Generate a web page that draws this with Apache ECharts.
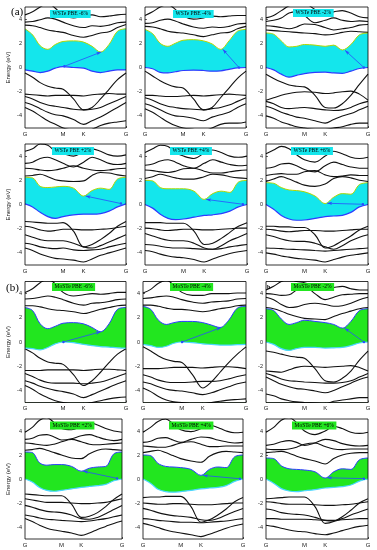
<!DOCTYPE html>
<html><head><meta charset="utf-8">
<script src="https://cdn.jsdelivr.net/npm/echarts@6/dist/echarts.min.js"></script>
<style>html,body{margin:0;padding:0;background:#fff}#c{width:377px;height:550px}</style>
</head><body><div id="c"></div>
<script>
// ---- shared path / ticks ----
const kPath = [0, 0.075, 0.15, 0.226, 0.30, 0.377, 0.48, 0.58, 0.664, 0.748, 0.832, 0.916, 1.0];
const kTicks = [0, 0.377, 0.58, 1];
const kTickLabels = ['G', 'M', 'K', 'G'];
const eTicks = [-4, -2, 0, 2, 4];
const titles = ['WSTe PBE -6%', 'WSTe PBE -4%', 'WSTe PBE -2%', 'WSTe PBE +2%', 'WSTe PBE +4%', 'WSTe PBE +6%',
  'MoSTe PBE -6%', 'MoSTe PBE -4%', 'MoSTe PBE -2%', 'MoSTe PBE +2%', 'MoSTe PBE +4%', 'MoSTe PBE +6%'];

// ---- WSTe -6% ----
const wsteM6Cb = [3.2, 2.7, 1.8, 1.5, 1.9, 2.15, 2.2, 2.1, 1.75, 1.28, 1.9, 3.0, 3.2];
const wsteM6Vb = [-0.2, -0.3, -0.42, -0.3, -0.05, 0.08, 0.0, -0.05, -0.3, -0.42, -0.3, -0.2, -0.2];
const wsteM6Arrow = [0.39, 0.1, 0.755, 1.28];
const wsteM6Bands = [
  [3.5, 3.45, 3.3, 3.1, 3.0, 2.9, 2.65, 2.5, 2.65, 2.85, 2.95, 3.3, 3.55],
  [3.75, 3.8, 3.95, 4.1, 4.0, 3.75, 3.45, 3.3, 3.45, 3.4, 3.5, 3.7, 3.75],
  [4.35, 4.6, 5.0, 5.3, 4.9, 4.3, 4.1, 4.3, 4.35, 4.2, 4.25, 4.35, 4.4],
  [-0.45, -0.8, -1.25, -1.55, -1.7, -1.8, -2.6, -3.5, -3.3, -2.6, -1.8, -1.0, -0.45],
  [-2.2, -2.25, -2.3, -2.35, -2.3, -2.3, -2.3, -2.35, -2.25, -2.2, -2.15, -2.2, -2.2],
  [-2.4, -2.6, -2.9, -3.1, -3.2, -3.3, -3.45, -3.5, -3.45, -3.3, -3.0, -2.7, -2.4],
  [-2.9, -3.1, -3.4, -3.7, -3.9, -4.0, -4.3, -4.7, -4.4, -4.1, -3.7, -3.3, -2.9],
  [-3.3, -3.6, -4.0, -4.4, -4.7, -5.0, -5.2, -5.3, -5.1, -4.8, -4.6, -4.5, -4.4]
];
// ---- WSTe -4% ----
const wsteM4Cb = [3.15, 2.8, 2.0, 1.75, 2.0, 2.25, 2.3, 2.2, 1.95, 1.5, 2.2, 3.0, 3.15];
const wsteM4Vb = [0.0, -0.1, -0.4, -0.45, -0.35, -0.25, -0.22, -0.25, -0.3, -0.28, -0.15, -0.03, 0.0];
const wsteM4Arrow = [0.93, 0.0, 0.77, 1.5];
const wsteM4Bands = [
  [3.4, 3.35, 3.2, 3.0, 2.9, 2.85, 2.7, 2.55, 2.7, 2.85, 2.9, 3.2, 3.4],
  [3.65, 3.7, 3.9, 4.0, 3.85, 3.6, 3.35, 3.25, 3.35, 3.3, 3.4, 3.6, 3.65],
  [4.3, 4.6, 5.0, 5.2, 4.8, 4.25, 4.0, 4.1, 4.25, 4.2, 4.25, 4.3, 4.3],
  [-0.3, -0.7, -1.1, -1.4, -1.6, -1.7, -2.6, -3.5, -3.3, -2.5, -1.7, -0.9, -0.3],
  [-2.3, -2.3, -2.35, -2.4, -2.4, -2.35, -2.3, -2.35, -2.3, -2.25, -2.2, -2.25, -2.3],
  [-2.5, -2.7, -3.0, -3.2, -3.3, -3.4, -3.45, -3.5, -3.4, -3.3, -3.1, -2.8, -2.5],
  [-3.0, -3.2, -3.5, -3.8, -4.0, -4.05, -4.2, -4.4, -4.1, -3.9, -3.7, -3.3, -3.0],
  [-3.4, -3.7, -4.1, -4.5, -4.8, -5.0, -5.1, -5.2, -5.0, -4.7, -4.6, -4.6, -4.5]
];
// ---- WSTe -2% ----
const wsteM2Cb = [2.85, 2.75, 2.2, 1.7, 1.75, 1.9, 1.85, 1.75, 1.85, 1.45, 1.9, 2.7, 2.85];
const wsteM2Vb = [0.0, -0.2, -0.55, -0.8, -0.65, -0.5, -0.4, -0.38, -0.45, -0.48, -0.3, -0.08, 0.0];
const wsteM2Arrow = [0.96, 0.0, 0.775, 1.42];
const wsteM2Bands = [
  [3.1, 3.05, 3.0, 2.95, 2.9, 2.85, 2.8, 2.7, 2.75, 2.9, 3.0, 2.95, 2.9],
  [3.45, 3.4, 3.3, 3.2, 3.35, 3.6, 3.55, 3.3, 3.1, 3.2, 3.3, 3.5, 3.55],
  [3.8, 3.9, 4.1, 4.5, 4.6, 4.3, 3.7, 3.9, 4.1, 3.9, 3.8, 3.85, 3.8],
  [4.1, 4.3, 4.7, 5.1, 5.3, 5.3, 4.8, 4.5, 4.6, 4.7, 4.5, 4.2, 4.1],
  [-0.55, -0.9, -1.2, -1.45, -1.55, -1.6, -2.3, -3.3, -3.35, -3.0, -2.3, -1.4, -0.55],
  [-2.7, -2.5, -2.3, -2.15, -2.05, -2.0, -2.05, -2.15, -2.1, -2.0, -1.95, -2.2, -2.7],
  [-2.8, -3.0, -3.3, -3.4, -3.35, -3.3, -3.4, -3.5, -3.55, -3.5, -3.3, -3.0, -2.8],
  [-3.2, -3.4, -3.7, -3.9, -4.1, -4.2, -4.4, -4.6, -4.3, -4.0, -3.8, -3.5, -3.2],
  [-4.0, -4.2, -4.5, -4.7, -4.9, -5.0, -5.1, -5.1, -5.0, -4.9, -4.7, -4.6, -4.6]
];
// ---- WSTe +2% ----
const wsteP2Cb = [2.25, 2.2, 1.5, 1.4, 1.45, 1.5, 1.35, 0.7, 1.15, 1.35, 1.25, 2.1, 2.25];
const wsteP2Vb = [0.05, -0.2, -0.65, -1.0, -1.15, -1.0, -0.85, -0.8, -0.8, -0.75, -0.55, -0.2, 0.05];
const wsteP2Arrow = [0.95, 0.08, 0.6, 0.7];
const wsteP2Bands = [
  [2.35, 2.4, 2.5, 2.3, 2.05, 1.95, 1.9, 1.95, 2.4, 2.65, 2.6, 2.45, 2.35],
  [3.0, 2.95, 2.85, 2.8, 2.85, 3.0, 3.2, 3.0, 2.85, 2.8, 2.85, 2.95, 3.0],
  [3.4, 3.5, 3.8, 3.9, 3.7, 3.4, 3.1, 3.5, 3.9, 3.7, 3.4, 3.3, 3.4],
  [4.4, 4.6, 5.0, 4.9, 4.4, 4.2, 4.0, 4.35, 4.6, 4.4, 4.1, 4.0, 4.1],
  [-1.4, -1.45, -1.5, -1.55, -1.55, -1.5, -2.2, -3.5, -3.3, -2.9, -2.4, -1.8, -1.4],
  [-1.8, -1.9, -2.1, -2.2, -2.15, -2.05, -2.05, -2.1, -2.1, -2.05, -2.0, -1.9, -1.8],
  [-2.5, -2.7, -2.9, -3.0, -3.0, -3.0, -3.2, -3.5, -3.6, -3.4, -3.1, -2.8, -2.5],
  [-3.2, -3.3, -3.5, -3.6, -3.65, -3.6, -3.75, -3.8, -3.75, -3.7, -3.5, -3.35, -3.2],
  [-3.6, -3.8, -4.1, -4.3, -4.45, -4.5, -4.6, -4.75, -4.5, -4.2, -4.0, -3.8, -3.6]
];
// ---- WSTe +4% ----
const wsteP4Cb = [2.0, 1.95, 1.4, 1.3, 1.3, 1.3, 1.1, 0.42, 0.9, 1.1, 1.0, 1.85, 2.0];
const wsteP4Vb = [0.0, -0.3, -0.8, -1.15, -1.25, -1.2, -1.05, -0.9, -0.85, -0.75, -0.55, -0.2, 0.0];
const wsteP4Arrow = [0.96, 0.02, 0.6, 0.42];
const wsteP4Bands = [
  [2.15, 2.3, 2.5, 2.35, 2.2, 2.1, 2.1, 2.3, 2.5, 2.45, 2.3, 2.2, 2.15],
  [2.85, 2.8, 2.7, 2.65, 2.75, 2.95, 3.0, 2.75, 2.6, 2.6, 2.7, 2.8, 2.85],
  [3.25, 3.35, 3.6, 3.7, 3.5, 3.2, 3.0, 3.4, 3.7, 3.5, 3.3, 3.2, 3.25],
  [4.3, 4.6, 4.9, 4.8, 4.3, 4.0, 3.8, 4.25, 4.5, 4.3, 4.0, 3.9, 4.0],
  [-1.5, -1.5, -1.5, -1.55, -1.55, -1.55, -2.2, -3.3, -3.2, -2.8, -2.3, -1.8, -1.5],
  [-1.95, -2.0, -2.1, -2.15, -2.1, -2.05, -2.05, -2.1, -2.1, -2.05, -2.0, -1.95, -1.95],
  [-2.4, -2.6, -2.8, -2.95, -3.0, -3.0, -3.2, -3.6, -3.7, -3.4, -3.0, -2.7, -2.4],
  [-3.3, -3.35, -3.45, -3.55, -3.6, -3.6, -3.65, -3.7, -3.7, -3.65, -3.5, -3.4, -3.3],
  [-3.8, -3.9, -4.1, -4.25, -4.35, -4.4, -4.55, -4.75, -4.5, -4.25, -4.05, -3.9, -3.8]
];
// ---- WSTe +6% ----
const wsteP6Cb = [1.8, 1.75, 1.4, 1.2, 1.15, 1.05, 0.7, 0.08, 0.6, 0.9, 0.85, 1.65, 1.8];
const wsteP6Vb = [0.0, -0.4, -0.9, -1.2, -1.3, -1.28, -1.15, -1.0, -0.95, -0.9, -0.65, -0.2, 0.0];
const wsteP6Arrow = [0.95, 0.02, 0.6, 0.1];
const wsteP6Bands = [
  [1.9, 2.1, 2.3, 2.1, 1.85, 1.6, 1.5, 1.7, 2.15, 2.3, 2.2, 2.0, 1.9],
  [2.4, 2.5, 2.55, 2.5, 2.5, 2.7, 2.8, 2.45, 2.3, 2.35, 2.45, 2.4, 2.4],
  [3.0, 3.1, 3.35, 3.4, 3.2, 2.9, 2.7, 3.2, 3.5, 3.3, 3.1, 3.0, 3.0],
  [4.2, 4.5, 4.8, 4.6, 4.1, 3.7, 3.5, 4.0, 4.4, 4.2, 3.9, 3.8, 3.9],
  [-1.8, -1.8, -1.85, -1.85, -1.9, -1.9, -2.5, -3.6, -3.4, -3.0, -2.6, -2.1, -1.8],
  [-2.05, -2.1, -2.2, -2.25, -2.2, -2.15, -2.15, -2.2, -2.2, -2.15, -2.1, -2.05, -2.05],
  [-2.5, -2.65, -2.85, -3.0, -3.05, -3.05, -3.2, -3.5, -3.7, -3.4, -3.0, -2.7, -2.5],
  [-3.6, -3.62, -3.65, -3.7, -3.72, -3.75, -3.8, -3.85, -3.8, -3.75, -3.7, -3.65, -3.6],
  [-4.0, -4.1, -4.25, -4.35, -4.45, -4.5, -4.6, -4.75, -4.55, -4.35, -4.2, -4.1, -4.0]
];
// ---- MoSTe -6% ----
const mosteM6Cb = [2.85, 2.6, 1.5, 1.1, 1.3, 1.55, 1.6, 1.5, 1.2, 0.85, 1.5, 2.7, 2.85];
const mosteM6Vb = [-0.5, -0.55, -0.65, -0.45, -0.15, 0.0, -0.05, -0.2, -0.3, -0.38, -0.42, -0.48, -0.5];
const mosteM6Arrow = [0.38, 0.0, 0.75, 0.85];
const mosteM6Bands = [
  [3.0, 3.0, 2.9, 2.75, 2.65, 2.6, 2.5, 2.35, 2.5, 2.7, 2.85, 3.0, 3.05],
  [3.55, 3.6, 3.7, 3.8, 3.7, 3.5, 3.2, 3.05, 3.2, 3.25, 3.35, 3.5, 3.55],
  [4.1, 4.4, 4.9, 5.2, 4.8, 4.1, 3.8, 3.9, 4.0, 3.95, 4.0, 4.1, 4.1],
  [-0.55, -0.9, -1.35, -1.65, -1.75, -1.85, -2.7, -3.6, -3.2, -2.5, -1.7, -1.0, -0.55],
  [-2.35, -2.35, -2.35, -2.3, -2.3, -2.3, -2.3, -2.35, -2.3, -2.25, -2.25, -2.3, -2.35],
  [-2.6, -2.85, -3.15, -3.35, -3.4, -3.4, -3.4, -3.45, -3.4, -3.3, -3.1, -2.85, -2.6],
  [-3.2, -3.4, -3.65, -3.85, -4.0, -4.1, -4.3, -4.6, -4.35, -4.05, -3.75, -3.45, -3.2],
  [-3.6, -3.9, -4.3, -4.6, -4.85, -5.0, -5.1, -5.1, -5.0, -4.85, -4.7, -4.6, -4.55]
];
// ---- MoSTe -4% ----
const mosteM4Cb = [2.95, 2.7, 1.8, 1.45, 1.6, 1.7, 1.7, 1.6, 1.4, 1.2, 1.8, 2.8, 2.95];
const mosteM4Vb = [-0.2, -0.3, -0.45, -0.35, -0.1, 0.0, -0.05, -0.15, -0.2, -0.25, -0.25, -0.22, -0.2];
const mosteM4Arrow = [0.38, 0.0, 0.76, 1.2];
const mosteM4Bands = [
  [3.05, 3.05, 2.95, 2.8, 2.7, 2.7, 2.6, 2.5, 2.6, 2.75, 2.85, 3.0, 3.05],
  [3.6, 3.65, 3.75, 3.8, 3.7, 3.5, 3.3, 3.2, 3.3, 3.35, 3.4, 3.55, 3.6],
  [4.05, 4.35, 4.85, 5.1, 4.7, 4.1, 3.85, 3.85, 4.0, 4.0, 4.0, 4.05, 4.05],
  [-0.4, -0.75, -1.15, -1.45, -1.6, -1.7, -2.7, -3.8, -3.3, -2.5, -1.7, -1.0, -0.4],
  [-2.2, -2.2, -2.2, -2.15, -2.1, -2.1, -2.1, -2.15, -2.1, -2.05, -2.05, -2.1, -2.2],
  [-2.7, -2.9, -3.15, -3.3, -3.35, -3.35, -3.3, -3.25, -3.25, -3.2, -3.05, -2.85, -2.7],
  [-3.3, -3.45, -3.7, -3.9, -4.0, -4.05, -4.2, -4.35, -4.2, -3.95, -3.7, -3.45, -3.3],
  [-3.8, -4.1, -4.5, -4.8, -4.95, -5.0, -5.1, -5.1, -5.0, -4.9, -4.8, -4.75, -4.7]
];
// ---- MoSTe -2% ----
const mosteM2Cb = [2.75, 2.6, 1.9, 1.45, 1.6, 1.8, 1.7, 1.6, 1.45, 1.15, 1.7, 2.6, 2.75];
const mosteM2Vb = [0.0, -0.2, -0.55, -0.7, -0.55, -0.45, -0.45, -0.5, -0.48, -0.45, -0.3, -0.08, 0.0];
const mosteM2Arrow = [0.96, 0.0, 0.77, 1.15];
const mosteM2Bands = [
  [2.85, 2.75, 2.55, 2.3, 2.1, 1.95, 1.9, 1.85, 2.1, 2.35, 2.55, 2.75, 2.85],
  [3.7, 3.5, 3.1, 2.85, 2.9, 3.1, 3.2, 3.1, 2.95, 3.0, 3.2, 3.5, 3.7],
  [4.0, 3.95, 3.85, 3.9, 4.3, 4.6, 4.0, 3.5, 3.7, 3.9, 3.95, 4.0, 4.0],
  [4.3, 4.6, 5.0, 5.2, 5.0, 4.9, 4.6, 4.4, 4.5, 4.6, 4.4, 4.3, 4.3],
  [-0.75, -0.85, -1.0, -1.15, -1.25, -1.35, -2.2, -3.2, -3.3, -3.0, -2.4, -1.5, -0.75],
  [-2.4, -2.45, -2.5, -2.3, -2.1, -2.0, -2.05, -2.1, -2.05, -2.0, -1.95, -2.1, -2.4],
  [-2.6, -2.8, -3.05, -3.2, -3.25, -3.3, -3.35, -3.4, -3.4, -3.35, -3.2, -2.9, -2.6],
  [-2.9, -3.2, -3.5, -3.7, -3.85, -3.9, -4.05, -4.2, -4.0, -3.7, -3.4, -3.1, -2.9],
  [-4.3, -4.45, -4.7, -4.85, -4.95, -5.0, -5.05, -5.1, -4.9, -4.8, -4.7, -4.6, -4.6]
];
// ---- MoSTe +2% ----
const mosteP2Cb = [2.25, 2.2, 1.35, 1.15, 1.2, 1.2, 1.05, 0.65, 0.9, 1.0, 1.05, 2.1, 2.25];
const mosteP2Vb = [0.0, -0.25, -0.7, -0.95, -1.02, -0.95, -0.82, -0.7, -0.62, -0.55, -0.45, -0.15, 0.0];
const mosteP2Arrow = [0.95, 0.05, 0.6, 0.65];
const mosteP2Bands = [
  [2.4, 2.45, 2.55, 2.4, 2.2, 2.0, 1.75, 1.7, 2.1, 2.4, 2.5, 2.45, 2.4],
  [3.0, 2.95, 2.85, 2.8, 2.9, 3.1, 3.3, 3.1, 2.9, 2.85, 2.9, 2.95, 3.0],
  [3.3, 3.4, 3.65, 3.7, 3.5, 3.25, 3.35, 3.6, 3.7, 3.5, 3.3, 3.2, 3.3],
  [3.9, 4.3, 4.9, 5.1, 4.7, 4.2, 4.1, 4.4, 4.7, 4.5, 4.2, 4.0, 3.9],
  [-1.25, -1.3, -1.35, -1.4, -1.4, -1.4, -2.1, -3.2, -3.1, -2.8, -2.3, -1.7, -1.25],
  [-1.65, -1.75, -1.85, -1.95, -1.95, -1.95, -2.0, -2.05, -2.05, -2.0, -1.95, -1.8, -1.65],
  [-2.2, -2.35, -2.55, -2.7, -2.75, -2.8, -3.0, -3.3, -3.35, -3.2, -2.9, -2.55, -2.2],
  [-3.0, -3.1, -3.25, -3.35, -3.4, -3.45, -3.5, -3.55, -3.5, -3.4, -3.3, -3.15, -3.0],
  [-3.3, -3.55, -3.85, -4.1, -4.25, -4.35, -4.5, -4.7, -4.5, -4.2, -3.95, -3.7, -3.5]
];
// ---- MoSTe +4% ----
const mosteP4Cb = [2.0, 1.95, 1.3, 1.05, 1.0, 0.95, 0.8, 0.3, 0.8, 1.0, 0.95, 1.85, 2.0];
const mosteP4Vb = [0.0, -0.35, -0.85, -1.05, -1.1, -1.05, -0.95, -0.82, -0.75, -0.7, -0.55, -0.2, 0.0];
const mosteP4Arrow = [0.97, 0.02, 0.6, 0.3];
const mosteP4Bands = [
  [2.2, 2.3, 2.4, 2.2, 1.95, 1.7, 1.5, 1.4, 1.9, 2.2, 2.3, 2.25, 2.2],
  [2.75, 2.7, 2.65, 2.65, 2.8, 3.0, 3.1, 2.9, 2.7, 2.7, 2.75, 2.75, 2.75],
  [3.05, 3.15, 3.4, 3.45, 3.25, 3.05, 3.3, 3.5, 3.45, 3.25, 3.1, 3.0, 3.05],
  [3.9, 4.3, 4.8, 5.0, 4.6, 4.1, 3.95, 4.2, 4.5, 4.3, 4.0, 3.85, 3.9],
  [-1.55, -1.5, -1.5, -1.45, -1.45, -1.45, -2.3, -3.6, -3.4, -3.0, -2.5, -1.9, -1.55],
  [-2.0, -2.05, -2.1, -2.1, -2.05, -2.05, -2.1, -2.15, -2.15, -2.1, -2.05, -2.0, -2.0],
  [-2.45, -2.6, -2.8, -2.95, -3.05, -3.1, -3.2, -3.4, -3.45, -3.3, -3.0, -2.7, -2.45],
  [-3.3, -3.35, -3.45, -3.5, -3.55, -3.6, -3.6, -3.65, -3.6, -3.55, -3.5, -3.4, -3.3],
  [-3.7, -3.85, -4.05, -4.25, -4.4, -4.5, -4.65, -4.8, -4.6, -4.35, -4.1, -3.9, -3.75]
];
// ---- MoSTe +6% ----
const mosteP6Cb = [1.75, 1.7, 1.1, 0.85, 0.8, 0.75, 0.6, 0.08, 0.6, 0.85, 0.8, 1.6, 1.75];
const mosteP6Vb = [0.0, -0.35, -0.8, -1.0, -1.05, -0.98, -0.88, -0.75, -0.7, -0.63, -0.5, -0.18, 0.0];
const mosteP6Arrow = [0.96, 0.03, 0.6, 0.1];
const mosteP6Bands = [
  [2.2, 2.25, 2.3, 2.15, 1.9, 1.7, 1.5, 1.25, 1.7, 2.0, 2.15, 2.2, 2.2],
  [2.5, 2.45, 2.45, 2.5, 2.65, 2.9, 3.0, 2.7, 2.5, 2.45, 2.5, 2.5, 2.5],
  [2.8, 2.9, 3.1, 3.2, 3.05, 2.8, 3.0, 3.3, 3.2, 2.95, 2.8, 2.75, 2.8],
  [3.9, 4.3, 4.9, 5.1, 4.7, 4.0, 3.7, 4.0, 4.4, 4.2, 3.9, 3.8, 3.9],
  [-1.65, -1.6, -1.55, -1.5, -1.5, -1.5, -2.3, -3.7, -3.55, -3.15, -2.6, -2.0, -1.65],
  [-1.9, -1.95, -2.05, -2.1, -2.1, -2.1, -2.15, -2.2, -2.2, -2.15, -2.1, -2.0, -1.9],
  [-2.5, -2.6, -2.8, -2.9, -2.95, -3.0, -3.2, -3.45, -3.5, -3.3, -3.0, -2.75, -2.5],
  [-3.3, -3.3, -3.35, -3.35, -3.35, -3.35, -3.4, -3.45, -3.45, -3.4, -3.35, -3.3, -3.3],
  [-3.85, -3.95, -4.1, -4.25, -4.35, -4.4, -4.55, -4.65, -4.5, -4.3, -4.1, -3.95, -3.85]
];

const panels = [
  [wsteM6Cb, wsteM6Vb, wsteM6Bands, wsteM6Arrow, 'a'],
  [wsteM4Cb, wsteM4Vb, wsteM4Bands, wsteM4Arrow, 'a'],
  [wsteM2Cb, wsteM2Vb, wsteM2Bands, wsteM2Arrow, 'a'],
  [wsteP2Cb, wsteP2Vb, wsteP2Bands, wsteP2Arrow, 'a'],
  [wsteP4Cb, wsteP4Vb, wsteP4Bands, wsteP4Arrow, 'a'],
  [wsteP6Cb, wsteP6Vb, wsteP6Bands, wsteP6Arrow, 'a'],
  [mosteM6Cb, mosteM6Vb, mosteM6Bands, mosteM6Arrow, 'b'],
  [mosteM4Cb, mosteM4Vb, mosteM4Bands, mosteM4Arrow, 'b'],
  [mosteM2Cb, mosteM2Vb, mosteM2Bands, mosteM2Arrow, 'b'],
  [mosteP2Cb, mosteP2Vb, mosteP2Bands, mosteP2Arrow, 'b'],
  [mosteP4Cb, mosteP4Vb, mosteP4Bands, mosteP4Arrow, 'b'],
  [mosteP6Cb, mosteP6Vb, mosteP6Bands, mosteP6Arrow, 'b']
];

// layout: [left, top, width, height, titleLeft, titleTop]
const layout = [
  [25, 7, 101, 121, 50, 10], [145, 7, 101, 121, 173, 10], [266, 7, 102, 121, 293, 9],
  [25, 144, 101, 121, 52, 147], [145, 144, 102, 121, 170, 147], [266, 144, 102, 121, 291, 147],
  [25, 281.5, 101, 121, 52, 283], [143, 281.5, 103, 121, 170, 283], [266, 281.5, 102, 121, 291, 283],
  [25, 419, 97, 120, 50, 421.5], [143, 419, 100, 120, 169, 421.5], [266, 419, 102, 120, 292, 421.5]
];
const famStyle = {
  a: { fill: '#14e6ec', cb: '#b4d600', vb: '#2d3cff' },
  b: { fill: '#22e61f', cb: '#2d3cff', vb: '#4ad6ff' }
};
const S = 0.35;
const pts = arr => arr.map((v, i) => [kPath[i], v]);
const font = 'Liberation Sans';

const grids = [], xAxes = [], yAxes = [], series = [], titleList = [];
panels.forEach((p, i) => {
  const [cb, vb, bands, arrow, fam] = p;
  const L = layout[i];
  const st = famStyle[fam];
  grids.push({ left: L[0], top: L[1], width: L[2], height: L[3], show: true, borderColor: '#000', borderWidth: 0.8, z: 10 });
  xAxes.push({
    gridIndex: i, type: 'value', min: 0, max: 1,
    axisLine: { show: false, onZero: false }, splitLine: { show: false },
    axisTick: { show: true, inside: true, length: 2, customValues: kTicks, lineStyle: { color: '#000', width: 0.6 } },
    axisLabel: { customValues: kTicks, formatter: v => kTickLabels[kTicks.indexOf(v)], fontSize: 6, margin: 3, color: '#222', fontFamily: font }
  });
  yAxes.push({
    gridIndex: i, type: 'value', min: -5, max: 5,
    name: i % 3 === 0 ? 'Energy (eV)' : '', nameLocation: 'middle', nameGap: 14, nameRotate: 90,
    nameTextStyle: { fontSize: 6, color: '#222', fontFamily: font },
    axisLine: { show: false, onZero: false }, splitLine: { show: false },
    axisTick: { show: true, inside: true, length: 2, customValues: eTicks, lineStyle: { color: '#000', width: 0.6 } },
    axisLabel: { customValues: eTicks, fontSize: 5.5, margin: 3, color: '#222', fontFamily: font }
  });
  const base = { type: 'line', xAxisIndex: i, yAxisIndex: i, smooth: S, symbol: 'none', silent: true, clip: true };
  // gap region: coloured area from CB edge down, then white area below VB edge
  series.push(Object.assign({}, base, { data: pts(cb), lineStyle: { width: 0, opacity: 0 }, areaStyle: { color: st.fill, opacity: 1, origin: 'start' }, z: 1 }));
  series.push(Object.assign({}, base, { data: pts(vb), lineStyle: { width: 0, opacity: 0 }, areaStyle: { color: '#ffffff', opacity: 1, origin: 'start' }, z: 2 }));
  bands.forEach(b => series.push(Object.assign({}, base, { data: pts(b), lineStyle: { color: '#111', width: 1.1 }, z: 3 })));
  series.push(Object.assign({}, base, { data: pts(cb), lineStyle: { color: st.cb, width: 1 }, z: 4 }));
  series.push(Object.assign({}, base, {
    data: pts(vb), lineStyle: { color: st.vb, width: 1.2 }, z: 4,
    markLine: {
      silent: true, symbol: ['circle', 'arrow'], symbolSize: [2.5, 5], label: { show: false },
      lineStyle: { color: '#2a4cff', width: 0.8, type: 'solid' },
      data: [[{ coord: [arrow[0], arrow[1]] }, { coord: [arrow[2], arrow[3]] }]]
    }
  }));
  titleList.push({
    text: titles[i], left: L[4], top: L[5], padding: [1, 2.5], backgroundColor: st.fill, z: 12,
    textStyle: { fontSize: 5.5, fontWeight: 'normal', fontFamily: 'Liberation Serif', color: '#000', lineHeight: 6 }
  });
});

const chart = echarts.init(document.getElementById('c'), null, { renderer: 'canvas' });
chart.setOption({
  animation: false,
  backgroundColor: '#fff',
  title: titleList,
  grid: grids, xAxis: xAxes, yAxis: yAxes, series: series,
  graphic: [
    { type: 'text', left: 11, top: 7, z: 20, style: { text: '(a)', font: '11px "Liberation Serif"', fill: '#000' } },
    { type: 'text', left: 6, top: 283, z: 20, style: { text: '(b)', font: '11px "Liberation Serif"', fill: '#000' } },
    { type: 'text', left: 267, top: 284, z: 20, style: { text: 'b', font: 'bold 6px "Liberation Serif"', fill: '#000' } }
  ]
});
</script>
</body></html>
